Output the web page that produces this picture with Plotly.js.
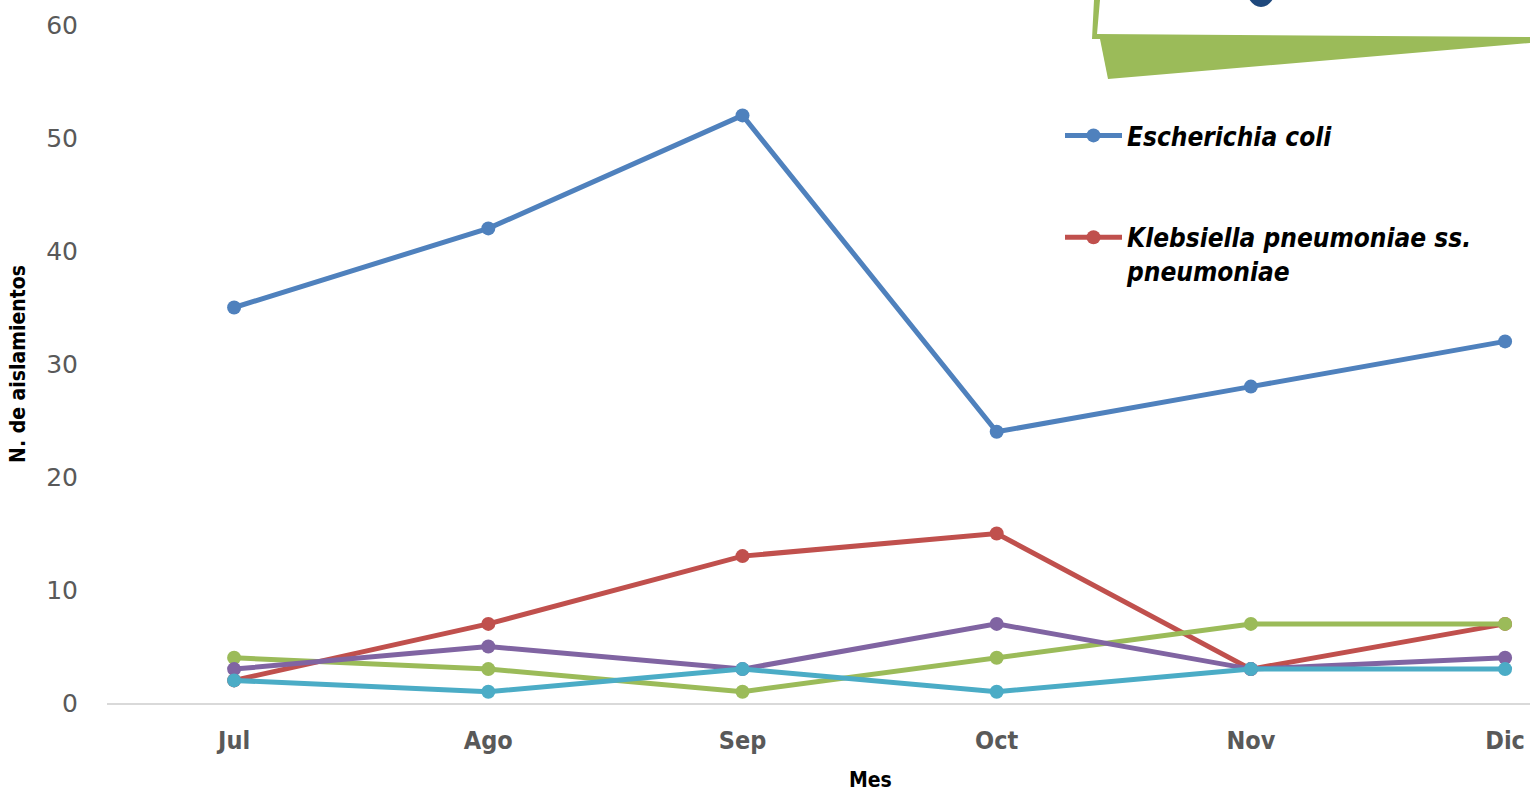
<!DOCTYPE html>
<html>
<head>
<meta charset="utf-8">
<script src="https://cdn.plot.ly/plotly-3.0.1.min.js"></script>
<style>html,body{margin:0;padding:0;background:#fff;}#chart{width:1530px;height:792px;}</style>
</head>
<body>
<div id="chart"></div>
<script>
const months = ["Jul", "Ago", "Sep", "Oct", "Nov", "Dic"];
const seriesNames = ["Escherichia coli", "Klebsiella pneumoniae ss.<br>pneumoniae", "Serie 3", "Serie 4", "Serie 5"];
const ecoli = [35, 42, 52, 24, 28, 32];
const klebsiella = [2, 7, 13, 15, 3, 7];
const serie3 = [4, 3, 1, 4, 7, 7];
const serie4 = [3, 5, 3, 7, 3, 4];
const serie5 = [2, 1, 3, 1, 3, 3];
const yTicks = [0, 10, 20, 30, 40, 50, 60];

const colors = ["#4F81BD", "#C0504D", "#9BBB59", "#8064A2", "#4BACC6"];
const allSeries = [ecoli, klebsiella, serie3, serie4, serie5];
const showLeg = [true, true, false, false, false];

const traces = allSeries.map((vals, i) => ({
  type: "scatter",
  mode: "lines+markers",
  x: months,
  y: vals,
  name: seriesNames[i],
  legendgroup: "g" + i,
  showlegend: showLeg[i],
  line: {color: colors[i], width: 5},
  marker: {color: colors[i], size: 14},
  cliponaxis: false
}));

// pixel -> paper helpers (plot area 107..1530 x, 25..703 y)
const L = 107, R = 1530, T = 25, B = 703;
const px = X => (X - L) / (R - L);
const py = Y => (B - Y) / (B - T);
const P = pts => "M" + pts.map(p => px(p[0]) + "," + py(p[1])).join(" L") + " Z";

const tickFont = "Liberation Sans Narrow, DejaVu Sans Condensed, Lato, sans-serif";

const layout = {
  width: 1530, height: 792,
  margin: {l: L, r: 0, t: T, b: 792 - B, pad: 0},
  paper_bgcolor: "#fff", plot_bgcolor: "#fff",
  showlegend: true,
  legend: {
    x: px(1060), y: py(112), xanchor: "left", yanchor: "top",
    bgcolor: "rgba(0,0,0,0)",
    font: {family: tickFont, size: 26, color: "#000", weight: "bold", style: "italic"},
    itemwidth: 57,
    tracegroupgap: 65,
    valign: "top"
  },
  xaxis: {
    type: "category",
    range: [-0.5, 5.098],
    showgrid: false, zeroline: false,
    showline: true, linecolor: "#D9D9D9", linewidth: 2,
    ticks: "",
    ticklabelstandoff: 14,
    tickfont: {family: tickFont, size: 25, color: "#595959", weight: "bold"},
    fixedrange: true
  },
  yaxis: {
    range: [0, 60],
    tickvals: yTicks,
    showgrid: false, zeroline: false, showline: false,
    ticks: "",
    ticklabelstandoff: 28,
    tickfont: {family: "DejaVu Sans, sans-serif", size: 25, color: "#595959"},
    title: {text: "N. de aislamientos", font: {family: tickFont, size: 21, color: "#000", weight: "bold"}, standoff: 14},
    fixedrange: true
  },
  annotations: [{
    text: "Mes", xref: "paper", yref: "paper", x: px(870), y: py(780),
    xanchor: "center", yanchor: "middle", showarrow: false,
    font: {family: tickFont, size: 21, color: "#000", weight: "bold"}
  }],
  shapes: [
    {type: "path", xref: "paper", yref: "paper", layer: "above",
     path: P([[1100, 39], [1530, 38], [1530, 43], [1108, 79]]),
     fillcolor: "#9BBB59", line: {width: 0}},
    {type: "path", xref: "paper", yref: "paper", layer: "above",
     path: P([[1094, 0], [1100, 0], [1097, 34], [1530, 37], [1530, 40], [1092, 39]]),
     fillcolor: "#9BBB59", line: {width: 0}},
    {type: "circle", xref: "paper", yref: "paper", layer: "above",
     x0: px(1245), x1: px(1277), y0: py(-40), y1: py(7),
     fillcolor: "#1F497D", line: {width: 0}}
  ]
};

Plotly.newPlot("chart", traces, layout, {displayModeBar: false, staticPlot: true});
</script>
</body>
</html>
